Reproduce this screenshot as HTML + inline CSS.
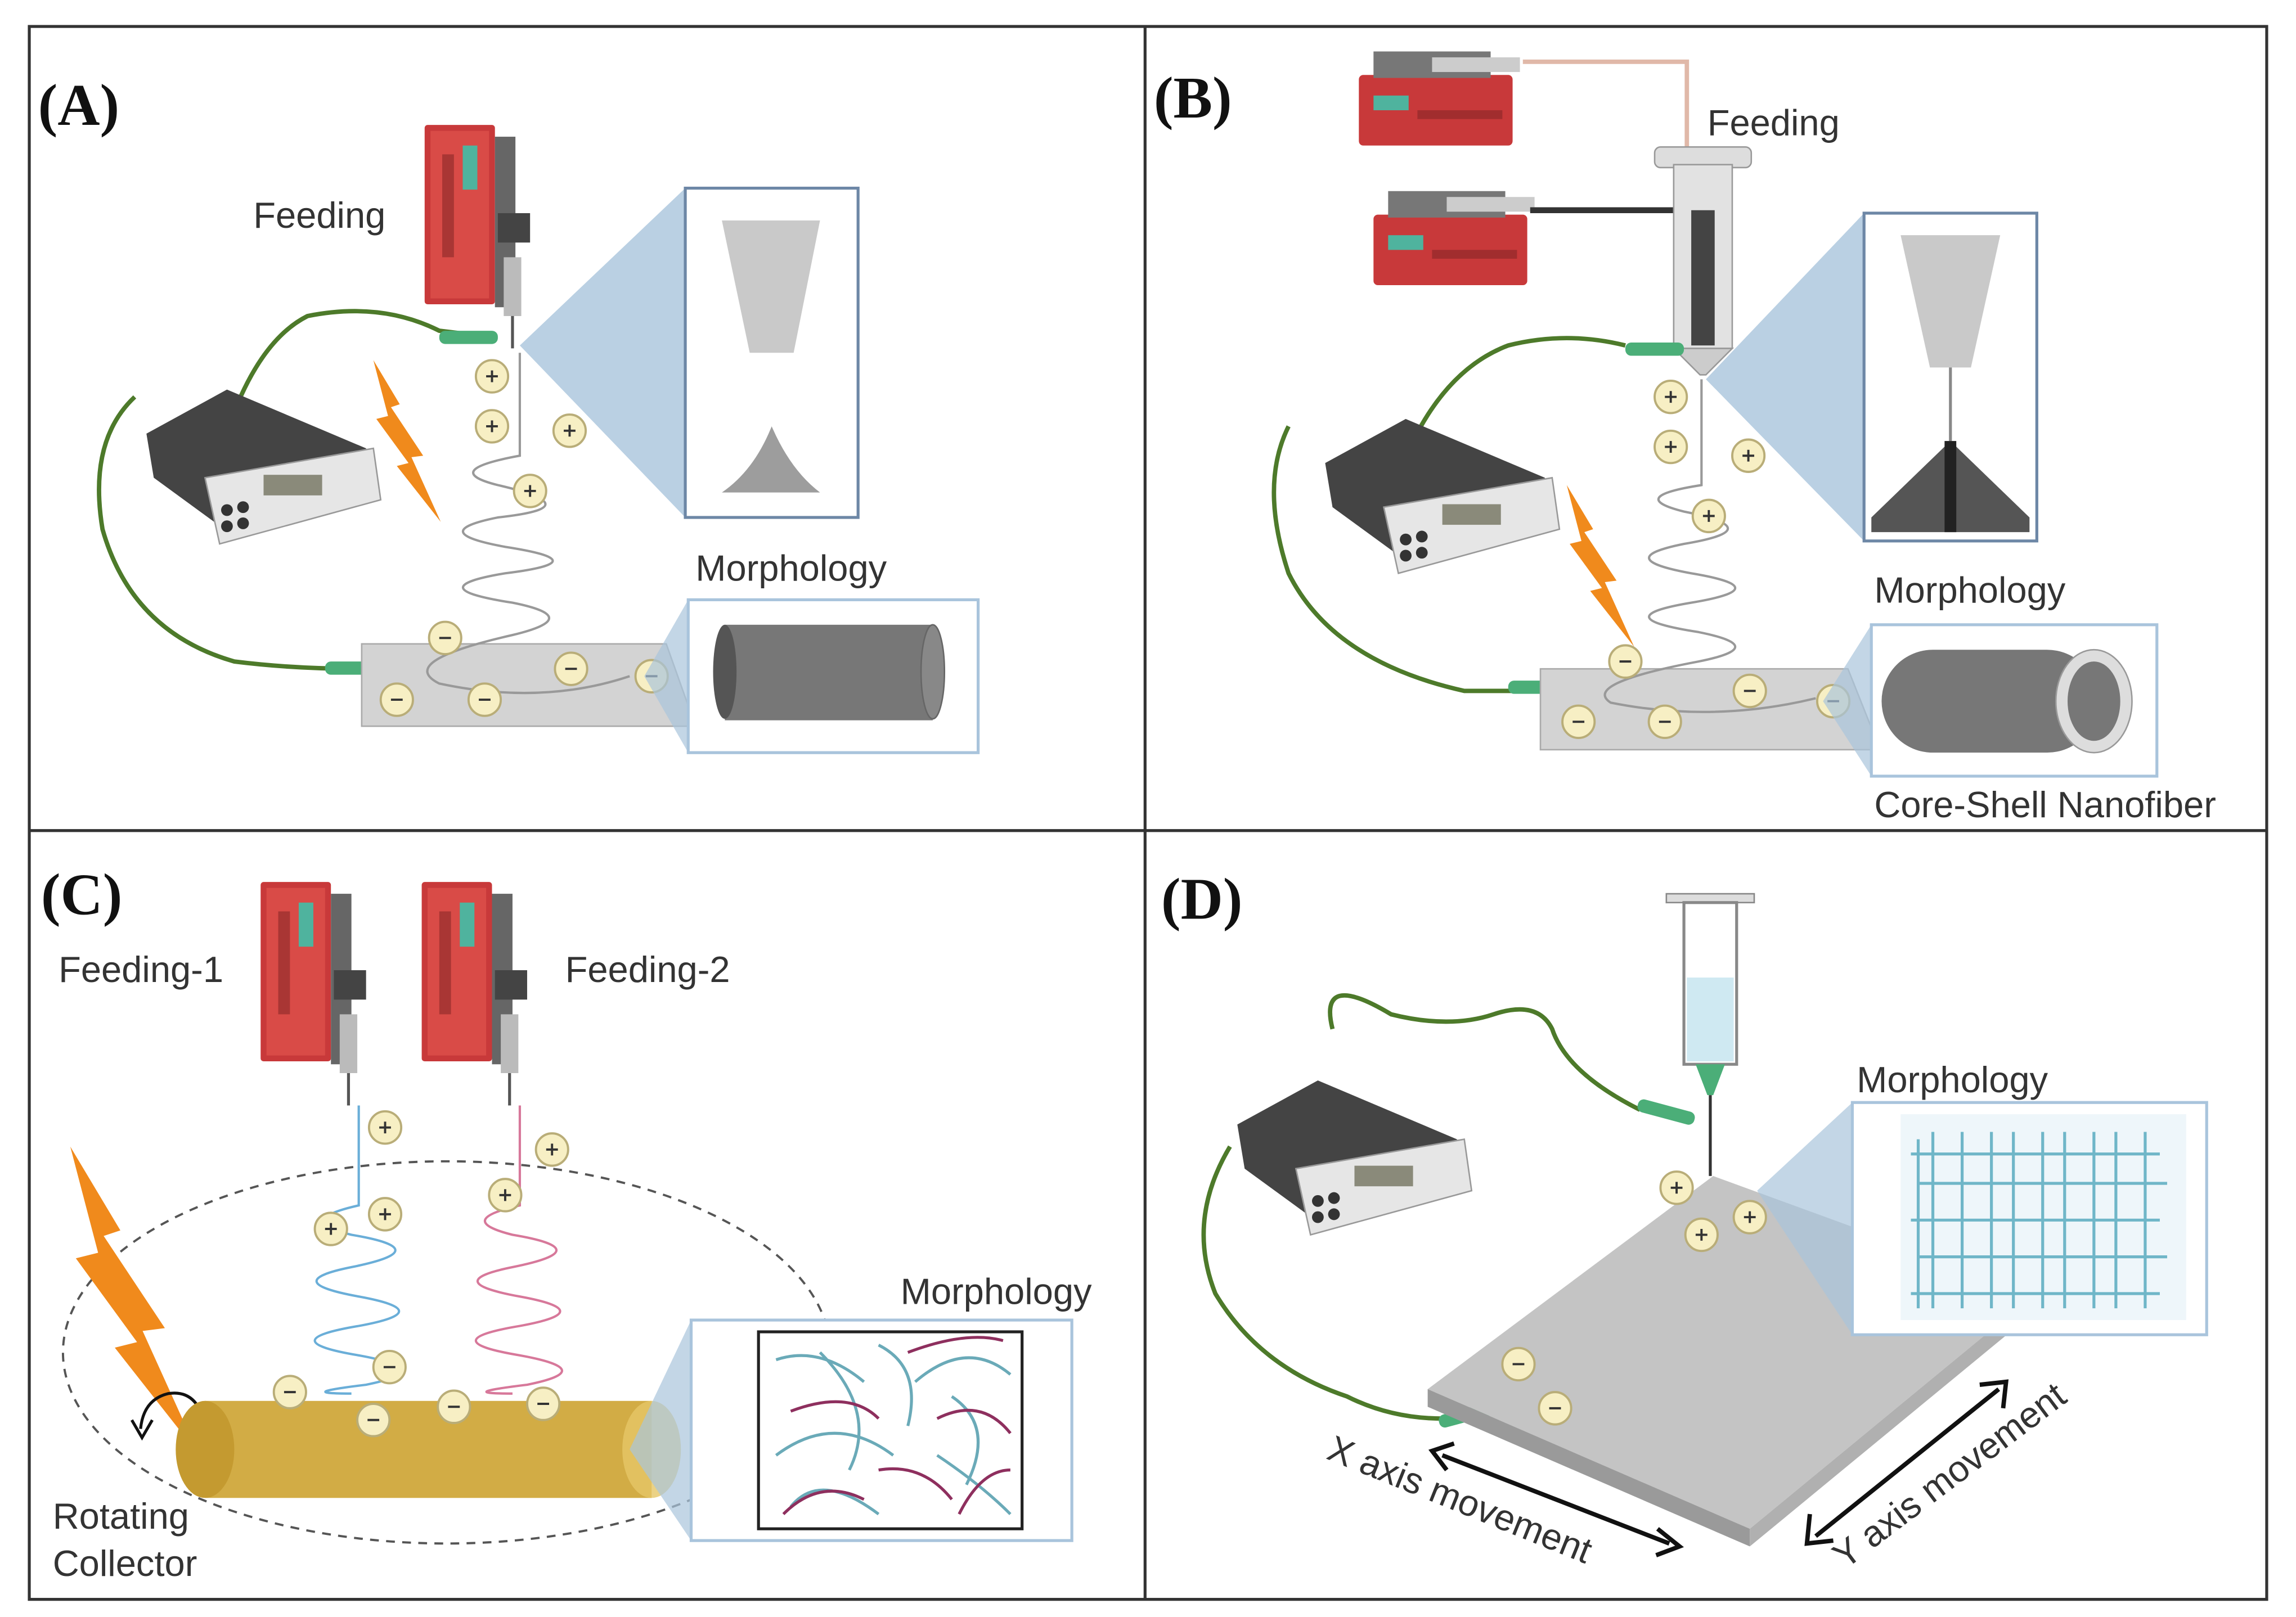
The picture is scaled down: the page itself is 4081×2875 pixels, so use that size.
<!DOCTYPE html>
<html><head><meta charset="utf-8"><style>
html,body{margin:0;padding:0;background:#fff;}
svg{display:block;}
text{font-family:"Liberation Sans",sans-serif;fill:#333;}
.lbl{font-family:"Liberation Serif",serif;font-weight:bold;font-size:40px;fill:#111;}
</style></head><body>
<svg width="4081" height="2875" viewBox="0 0 1568 1100" preserveAspectRatio="none" xmlns="http://www.w3.org/2000/svg">
<defs>
<g id="pos"><circle r="11" fill="#f7efc4" stroke="#b9ad78" stroke-width="1.5"/><path d="M-4 0H4M0 -4V4" stroke="#333" stroke-width="1.5"/></g>
<g id="neg"><circle r="11" fill="#f7efc4" stroke="#b9ad78" stroke-width="1.5"/><path d="M-4 0H4" stroke="#333" stroke-width="1.5"/></g>
<g id="pumpV">
<rect x="0" y="0" width="48" height="122" fill="#c8393a" rx="2"/>
<rect x="4" y="4" width="40" height="114" fill="#d94b47"/>
<rect x="26" y="14" width="10" height="30" fill="#4fb39e"/>
<rect x="12" y="20" width="8" height="70" fill="#7a2222" opacity=".5"/>
<rect x="48" y="8" width="14" height="116" fill="#666"/>
<rect x="50" y="60" width="22" height="20" fill="#444"/>
<rect x="54" y="90" width="12" height="40" fill="#bbb"/>
<line x1="60" y1="130" x2="60" y2="152" stroke="#555" stroke-width="2"/>
</g>
<g id="pumpH">
<rect x="0" y="16" width="105" height="48" fill="#c8393a" rx="3"/>
<rect x="10" y="30" width="24" height="10" fill="#4fb39e"/>
<rect x="40" y="40" width="58" height="6" fill="#7a2222" opacity=".5"/>
<rect x="10" y="0" width="80" height="18" fill="#777"/>
<rect x="50" y="4" width="60" height="10" fill="#ccc"/>
</g>
<g id="supply">
<path d="M0 30 L55 0 L150 40 L155 70 L60 100 L5 60 Z" fill="#444"/>
<path d="M40 60 L155 40 L160 75 L50 105 Z" fill="#e6e6e6" stroke="#999"/>
<rect x="80" y="58" width="40" height="14" fill="#8a8a7a"/>
<circle cx="55" cy="82" r="4" fill="#333"/><circle cx="66" cy="80" r="4" fill="#333"/><circle cx="55" cy="93" r="4" fill="#333"/><circle cx="66" cy="91" r="4" fill="#333"/>
</g>
<g id="bolt"><path d="M0 0 L18 30 L12 32 L34 65 L26 66 L46 110 L16 72 L24 70 L2 40 L10 38 Z" fill="#f08a1c"/></g>
</defs>

<!-- frames -->
<rect x="20" y="18" width="1528" height="1070" fill="none" stroke="#333" stroke-width="2"/>
<line x1="782" y1="18" x2="782" y2="1088" stroke="#333" stroke-width="2"/>
<line x1="20" y1="565" x2="1548" y2="565" stroke="#333" stroke-width="2"/>

<!-- ===== A ===== -->
<text class="lbl" x="26" y="85">(A)</text>
<text x="173" y="155" font-size="25">Feeding</text>
<use href="#pumpV" x="290" y="85"/>
<polygon points="355,235 468,128 468,352" fill="#a9c4dc" opacity=".8"/>
<rect x="468" y="128" width="118" height="224" fill="#fff" stroke="#6d87a6" stroke-width="2"/>
<path d="M493 150 L560 150 L542 240 L512 240 Z" fill="#c9c9c9"/>
<path d="M527 240 L527 290 Q515 320 493 335 L560 335 Q540 320 527 290" fill="#9d9d9d"/>
<path d="M92 270 Q60 300 70 360 Q90 430 160 450 Q200 455 245 455" fill="none" stroke="#4d7a2a" stroke-width="3"/>
<path d="M160 280 Q180 230 210 215 Q260 205 300 225 L325 228" fill="none" stroke="#4d7a2a" stroke-width="3"/>
<rect x="222" y="450" width="40" height="9" rx="4" fill="#4bae78"/>
<rect x="300" y="225" width="40" height="9" rx="4" fill="#4bae78"/>
<use href="#supply" x="100" y="265"/>
<use href="#bolt" x="255" y="245"/>
<path d="M247 438 L455 438 L470 480 L470 494 L247 494 Z" fill="#d3d3d3" stroke="#aaa"/>
<path d="M355 240 L355 310 Q300 320 340 330 Q405 345 340 352 Q290 362 345 372 Q410 382 345 390 Q285 400 350 410 Q400 420 350 432 Q270 450 300 465 Q370 480 430 460" fill="none" stroke="#999" stroke-width="1.6"/>
<use href="#pos" x="336" y="256"/><use href="#pos" x="336" y="290"/><use href="#pos" x="389" y="293"/><use href="#pos" x="362" y="334"/>
<use href="#neg" x="304" y="434"/><use href="#neg" x="390" y="455"/><use href="#neg" x="271" y="476"/><use href="#neg" x="331" y="476"/><use href="#neg" x="445" y="460"/>
<text x="475" y="395" font-size="25">Morphology</text>
<polygon points="440,460 470,408 470,512" fill="#a9c4dc" opacity=".7"/>
<rect x="470" y="408" width="198" height="104" fill="#fff" stroke="#a9c4dc" stroke-width="2"/>
<rect x="495" y="425" width="142" height="65" fill="#777"/>
<ellipse cx="495" cy="457" rx="8" ry="32" fill="#555"/>
<ellipse cx="637" cy="457" rx="8" ry="32" fill="#888" stroke="#666"/>

<!-- ===== B ===== -->
<text class="lbl" x="788" y="80">(B)</text>
<use href="#pumpH" x="928" y="35"/>
<use href="#pumpH" x="938" y="130"/>
<path d="M1040 42 L1152 42 L1152 120" fill="none" stroke="#e0b8a8" stroke-width="3"/>
<line x1="1045" y1="143" x2="1160" y2="143" stroke="#333" stroke-width="4"/>
<text x="1166" y="92" font-size="25">Feeding</text>
<rect x="1130" y="100" width="66" height="14" rx="4" fill="#ddd" stroke="#999"/>
<rect x="1143" y="112" width="40" height="125" fill="#e2e2e2" stroke="#999"/>
<rect x="1155" y="143" width="16" height="92" fill="#444"/>
<path d="M1143 237 L1183 237 L1165 255 L1161 255 Z" fill="#ccc" stroke="#999"/>
<polygon points="1165,258 1273,145 1273,368" fill="#a9c4dc" opacity=".8"/>
<rect x="1273" y="145" width="118" height="223" fill="#fff" stroke="#6d87a6" stroke-width="2"/>
<path d="M1298 160 L1366 160 L1346 250 L1318 250 Z" fill="#c9c9c9"/>
<line x1="1332" y1="250" x2="1332" y2="300" stroke="#888" stroke-width="2"/>
<path d="M1278 352 L1332 300 L1386 352 L1386 362 L1278 362 Z" fill="#555"/>
<rect x="1328" y="300" width="8" height="62" fill="#222"/>
<path d="M880 290 Q860 330 880 390 Q910 450 1000 470 L1040 470" fill="none" stroke="#4d7a2a" stroke-width="3"/>
<path d="M965 300 Q990 250 1030 235 Q1070 225 1110 235" fill="none" stroke="#4d7a2a" stroke-width="3"/>
<rect x="1030" y="463" width="40" height="9" rx="4" fill="#4bae78"/>
<rect x="1110" y="233" width="40" height="9" rx="4" fill="#4bae78"/>
<use href="#supply" x="905" y="285"/>
<use href="#bolt" x="1070" y="330"/>
<path d="M1052 455 L1262 455 L1278 495 L1278 510 L1052 510 Z" fill="#d3d3d3" stroke="#aaa"/>
<path d="M1162 258 L1162 330 Q1110 338 1150 348 Q1210 360 1150 370 Q1100 380 1155 390 Q1215 400 1155 410 Q1095 420 1160 430 Q1210 440 1160 450 Q1080 465 1100 478 Q1170 492 1240 475" fill="none" stroke="#999" stroke-width="1.6"/>
<use href="#pos" x="1141" y="270"/><use href="#pos" x="1141" y="304"/><use href="#pos" x="1194" y="310"/><use href="#pos" x="1167" y="351"/>
<use href="#neg" x="1110" y="450"/><use href="#neg" x="1195" y="470"/><use href="#neg" x="1078" y="491"/><use href="#neg" x="1137" y="491"/><use href="#neg" x="1252" y="477"/>
<text x="1280" y="410" font-size="25">Morphology</text>
<polygon points="1245,477 1278,425 1278,528" fill="#a9c4dc" opacity=".7"/>
<rect x="1278" y="425" width="195" height="103" fill="#fff" stroke="#a9c4dc" stroke-width="2"/>
<rect x="1285" y="442" width="148" height="70" rx="35" fill="#777"/>
<ellipse cx="1430" cy="477" rx="26" ry="35" fill="#ddd" stroke="#999"/>
<ellipse cx="1430" cy="477" rx="18" ry="27" fill="#777"/>
<text x="1280" y="556" font-size="25">Core-Shell Nanofiber</text>

<!-- ===== C ===== -->
<text class="lbl" x="28" y="622">(C)</text>
<use href="#pumpV" x="178" y="600"/>
<use href="#pumpV" x="288" y="600"/>
<text x="40" y="668" font-size="25">Feeding-1</text>
<text x="386" y="668" font-size="25">Feeding-2</text>
<ellipse cx="305" cy="920" rx="262" ry="130" fill="none" stroke="#555" stroke-width="1.5" stroke-dasharray="6,5"/>
<use href="#bolt" x="48" y="780" transform="translate(48 780) scale(1.9 1.9) translate(-48 -780)"/>
<path d="M140 970 Q135 945 115 948 Q98 952 96 972" fill="none" stroke="#111" stroke-width="2"/>
<path d="M90 966 L97 978 L104 966" fill="none" stroke="#111" stroke-width="2"/>
<rect x="140" y="953" width="305" height="66" fill="#d2ac45"/>
<ellipse cx="140" cy="986" rx="20" ry="33" fill="#c49a30"/>
<ellipse cx="445" cy="986" rx="20" ry="33" fill="#e6c766" opacity=".8"/>
<path d="M245 752 L245 820 Q200 830 240 840 Q300 850 240 862 Q190 872 245 882 Q300 892 245 902 Q185 912 245 922 Q300 932 250 942 Q200 948 240 948" fill="none" stroke="#6aaed8" stroke-width="1.6"/>
<path d="M355 752 L355 820 Q310 830 350 840 Q410 850 350 862 Q300 872 355 882 Q410 892 355 902 Q295 912 355 922 Q410 932 360 942 Q310 948 350 948" fill="none" stroke="#d7789a" stroke-width="1.6"/>
<use href="#pos" x="263" y="767"/><use href="#pos" x="377" y="782"/><use href="#pos" x="345" y="813"/><use href="#pos" x="226" y="836"/><use href="#pos" x="263" y="826"/>
<use href="#neg" x="266" y="930"/><use href="#neg" x="198" y="947"/><use href="#neg" x="310" y="957"/><use href="#neg" x="371" y="955"/><use href="#neg" x="255" y="966"/>
<text x="36" y="1040" font-size="25">Rotating</text>
<text x="36" y="1072" font-size="25">Collector</text>
<text x="615" y="887" font-size="25">Morphology</text>
<polygon points="430,986 472,898 472,1048" fill="#a9c4dc" opacity=".7"/>
<rect x="472" y="898" width="260" height="150" fill="#fff" stroke="#a9c4dc" stroke-width="2"/>
<rect x="518" y="906" width="180" height="134" fill="#fff" stroke="#222" stroke-width="2"/>
<g fill="none" stroke-width="2">
<path d="M530 925 Q560 915 590 940" stroke="#6aaab8"/><path d="M560 920 Q600 960 580 1000" stroke="#6aaab8"/>
<path d="M600 915 Q630 930 620 970" stroke="#6aaab8"/><path d="M625 940 Q660 910 690 935" stroke="#6aaab8"/>
<path d="M530 990 Q570 960 610 990" stroke="#6aaab8"/><path d="M640 990 Q670 1010 690 1030" stroke="#6aaab8"/>
<path d="M540 1025 Q560 1000 600 1030" stroke="#6aaab8"/><path d="M650 950 Q680 970 660 1010" stroke="#6aaab8"/>
<path d="M620 920 Q660 905 685 912" stroke="#8e2f5e"/><path d="M540 960 Q580 945 600 965" stroke="#8e2f5e"/>
<path d="M640 965 Q670 950 690 975" stroke="#8e2f5e"/><path d="M535 1030 Q560 1005 590 1020" stroke="#8e2f5e"/>
<path d="M600 1000 Q630 995 650 1020" stroke="#8e2f5e"/><path d="M655 1030 Q670 1000 690 1000" stroke="#8e2f5e"/>
</g>

<!-- ===== D ===== -->
<text class="lbl" x="793" y="625">(D)</text>
<rect x="1138" y="608" width="60" height="6" fill="#ddd" stroke="#888"/>
<rect x="1150" y="614" width="36" height="110" fill="#fff" stroke="#888" stroke-width="2"/>
<rect x="1152" y="665" width="32" height="57" fill="#cfe9f2"/>
<path d="M1158 724 L1178 724 L1170 745 L1166 745 Z" fill="#4bae78"/>
<line x1="1168" y1="745" x2="1168" y2="800" stroke="#333" stroke-width="2"/>
<path d="M910 700 Q900 660 950 690 Q990 700 1020 690 Q1050 680 1060 700 Q1070 730 1120 755" fill="none" stroke="#4d7a2a" stroke-width="3"/>
<rect x="1118" y="752" width="40" height="9" rx="4" fill="#4bae78" transform="rotate(15 1138 756)"/>
<path d="M840 780 Q810 830 830 880 Q860 930 920 950 Q950 965 985 965" fill="none" stroke="#4d7a2a" stroke-width="3"/>
<rect x="982" y="958" width="40" height="9" rx="4" fill="#4bae78" transform="rotate(-15 1002 962)"/>
<use href="#supply" x="845" y="735"/>
<path d="M975 945 L1170 800 L1390 880 L1195 1040 Z" fill="#c4c4c4"/>
<path d="M975 945 L1195 1040 L1195 1052 L975 957 Z" fill="#9a9a9a"/>
<path d="M1195 1040 L1390 880 L1390 892 L1195 1052 Z" fill="#b0b0b0"/>
<use href="#pos" x="1145" y="808"/><use href="#pos" x="1195" y="828"/><use href="#pos" x="1162" y="840"/>
<use href="#neg" x="1037" y="928"/><use href="#neg" x="1062" y="958"/>
<text x="1268" y="743" font-size="25">Morphology</text>
<polygon points="1200,810 1265,750 1265,908" fill="#a9c4dc" opacity=".7"/>
<rect x="1265" y="750" width="242" height="158" fill="#fff" stroke="#a9c4dc" stroke-width="2"/>
<rect x="1298" y="758" width="195" height="140" fill="#eef6fa"/>
<g fill="none" stroke="#6fb6c8" stroke-width="2">
<path d="M1310 775 V890 M1320 770 V890 M1340 770 V890 M1360 770 V890 M1375 770 V890 M1395 770 V890 M1410 770 V890 M1430 770 V890 M1445 770 V890 M1465 770 V890"/>
<path d="M1305 785 H1475 M1310 805 H1480 M1305 830 H1475 M1310 855 H1480 M1305 880 H1475"/>
</g>
<path d="M985 990 L1140 1050" stroke="#111" stroke-width="3"/>
<path d="M993 982 L978 987 L988 1000 M1132 1040 L1147 1052 L1131 1058" fill="none" stroke="#111" stroke-width="3"/>
<text font-size="25" transform="translate(905 992) rotate(22)">X axis movement</text>
<path d="M1240 1045 L1365 945" stroke="#111" stroke-width="3"/>
<path d="M1236 1030 L1234 1050 L1252 1048 M1352 942 L1370 940 L1368 958" fill="none" stroke="#111" stroke-width="3"/>
<text font-size="25" transform="translate(1260 1068) rotate(-37)">Y axis movement</text>
</svg>
</body></html>
